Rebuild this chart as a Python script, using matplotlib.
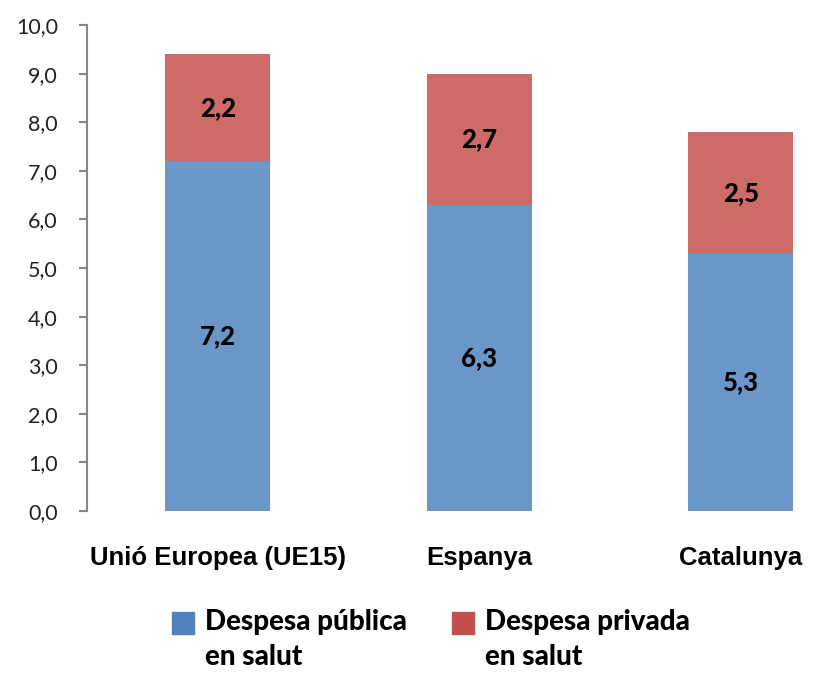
import numpy as np
import matplotlib.pyplot as plt
from matplotlib.patches import Patch, Rectangle
from matplotlib.legend_handler import HandlerPatch

# data
regions = ['Unió Europea (UE15)', 'Espanya', 'Catalunya']
publica = [7.2, 6.3, 5.3]
privada = [2.2, 2.7, 2.5]
series_names = ['Despesa pública\nen salut', 'Despesa privada\nen salut']

blue = '#6B96C8'
red = '#CC6B68'

fig = plt.figure(figsize=(8.17, 6.74), dpi=100)
ax = fig.add_axes([87 / 817, 1 - 511 / 674, 730 / 817, 486 / 674])

x = np.arange(len(regions))
ax.bar(x, publica, width=0.4, color=blue)
ax.bar(x, privada, width=0.4, bottom=publica, color=red)

# value labels in the middle of each segment
for xi, p, q in zip(x, publica, privada):
    ax.text(xi, p / 2, f'{p:.1f}'.replace('.', ','), ha='center', va='center',
            fontsize=18.5, fontweight='black', family='Lato')
    ax.text(xi, p + q / 2, f'{q:.1f}'.replace('.', ','), ha='center', va='center',
            fontsize=18.5, fontweight='black', family='Lato')

ax.set_xlim(-0.5, -0.5 + 730 / 261.5)
ax.set_ylim(0, 10)
ax.set_yticks(np.arange(0, 11, 1))
ax.set_yticklabels([f'{v:.1f}'.replace('.', ',') for v in np.arange(0, 11, 1)],
                   fontsize=15.5, family='Lato', color='#222222')
ax.set_xticks(x)
ax.set_xticklabels(regions, fontsize=18.5, fontweight='bold', family='Liberation Sans')

for s in ['top', 'right', 'bottom']:
    ax.spines[s].set_visible(False)
ax.spines['left'].set_color('#878787')
ax.spines['left'].set_linewidth(1.5)
ax.tick_params(axis='y', color='#878787', width=1.5, length=6, pad=15)
ax.tick_params(axis='x', length=0, pad=25)


# legend square sits next to the first line of the label
def top_square(legend, orig_handle, xdescent, ydescent, width, height, fontsize):
    s = 0.8 * fontsize
    return Rectangle((-xdescent, -ydescent + height - s), s, s)


handles = [Patch(color='#4F81BD'), Patch(color='#C0504D')]
leg = fig.legend(handles, series_names, loc='upper left',
                 bbox_to_anchor=(172 / 817, 1 - 609 / 674),
                 ncol=2, frameon=False, handlelength=0.8, handleheight=3.0,
                 handletextpad=0.4, columnspacing=1.6, borderpad=0, borderaxespad=0,
                 handler_map={Patch: HandlerPatch(patch_func=top_square)},
                 prop={'family': 'Lato', 'weight': 'black', 'size': 20})
for t in leg.get_texts():
    t.set_linespacing(1.45)

fig.savefig('out.png', dpi=100)
